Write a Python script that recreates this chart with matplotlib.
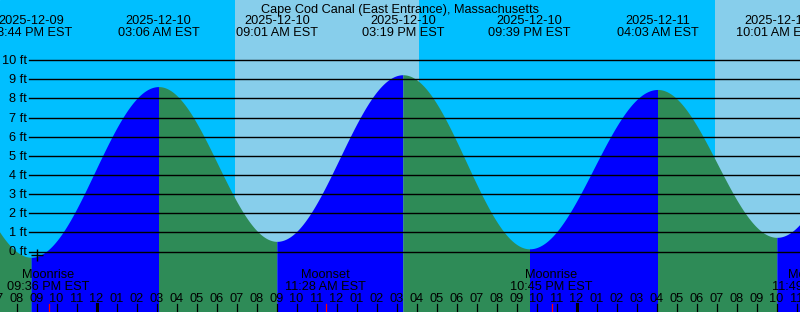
import numpy as np
import matplotlib
matplotlib.use("Agg")
import matplotlib.pyplot as plt
from matplotlib.transforms import blended_transform_factory

plt.rcParams['font.family'] = ['Liberation Sans', 'DejaVu Sans']

# hours from midnight 2025-12-10 EST
# tide extremes (first and last are off the chart, estimated)
ext_h = [-9.67, -3.267, 3.1, 9.017, 15.317, 21.65, 28.05, 34.017, 40.3]
ext_ft = [9.0, -0.3, 8.62, 0.53, 9.24, 0.14, 8.47, 0.74, 9.2]
ext_dates = ["", "2025-12-09", "2025-12-10", "2025-12-10", "2025-12-10",
             "2025-12-10", "2025-12-11", "2025-12-11", ""]
ext_times = ["", "08:44 PM EST", "03:06 AM EST", "09:01 AM EST", "03:19 PM EST",
             "09:39 PM EST", "04:03 AM EST", "10:01 AM EST", ""]

# daylight spans (sunrise, sunset)
day_spans = [(6.92, 16.12), (30.92, 42.0)]

# moon events
moon_h = [-2.4, 11.467, 22.75, 35.817]
moon_name = ["Moonrise", "Moonset", "Moonrise", "Moonset"]
moon_time = ["09:36 PM EST", "11:28 AM EST", "10:45 PM EST", "11:49 AM EST"]

ft_levels = list(range(0, 11))
hours = list(range(-5, 36))

W, H = 800, 312
fig = plt.figure(figsize=(W / 100, H / 100), dpi=100)
ax = fig.add_axes([0, 0, 1, 1])
x0 = -96.5 / 20
ax.set_xlim(x0, x0 + W / 20)
ax.set_ylim((251.5 - H) / 19.13, 251.5 / 19.13)
ax.axis('off')

ax.add_patch(plt.Rectangle((0, 0), 1, 1, transform=ax.transAxes, color='#00BFFF', zorder=0))
for s, e in day_spans:
    ax.axvspan(s, e, color='#87CEEB', zorder=1, lw=0)

# tide curve: half-cosine between successive extremes
bottom = -5
for i in range(len(ext_h) - 1):
    t0, t1 = ext_h[i], ext_h[i + 1]
    v0, v1 = ext_ft[i], ext_ft[i + 1]
    t = np.linspace(t0, t1, 200)
    v = v0 + (v1 - v0) * (1 - np.cos(np.pi * (t - t0) / (t1 - t0))) / 2
    col = '#0000FF' if v1 > v0 else '#2E8B57'
    ax.fill_between(t, v, bottom, color=col, lw=0, zorder=2)

# grid lines
trY = blended_transform_factory(fig.transFigure, ax.transData)
for f in ft_levels:
    ax.plot([29 / W, 1], [f, f], color='black', lw=1.0, transform=trY, zorder=3)
    ax.text(27 / W, f - 0.05, f"{f} ft", transform=trY, ha='right', va='center',
            fontsize=9.2, zorder=4)

trX = blended_transform_factory(ax.transData, fig.transFigure)

def fy(p):
    return 1 - p / H

# title and extremes labels
fig.text(0.5, fy(9.5), "Cape Cod Canal (East Entrance), Massachusetts",
         ha='center', va='center', fontsize=9.2)
for h, d, tm in zip(ext_h, ext_dates, ext_times):
    if d:
        ax.text(h, fy(20.5), d, transform=trX, ha='center', va='center', fontsize=9.2, zorder=5)
        ax.text(h, fy(32.5), tm, transform=trX, ha='center', va='center', fontsize=9.2, zorder=5)

# moon events
for h, n, tm in zip(moon_h, moon_name, moon_time):
    ax.text(h, fy(274.5), n, transform=trX, ha='center', va='center', fontsize=9.2, zorder=5)
    ax.text(h, fy(286.5), tm, transform=trX, ha='center', va='center', fontsize=9.2, zorder=5)
    ax.plot([h, h], [fy(304), 0], color='red', lw=0.9, transform=trX, zorder=5)

# hour ticks and labels
for h in hours:
    lab = f"{(h - 1) % 12 + 1:02d}"
    ax.text(h, fy(299.5), lab, transform=trX, ha='center', va='center', fontsize=9.2, zorder=5)
    lw = 2.2 if h % 24 == 0 else 0.9
    ax.plot([h, h], [fy(304), 0], color='black', lw=lw, transform=trX, zorder=5)

# marker near first low
ax.plot([-2.975], [-0.18], marker='+', color='black', ms=8, mew=1.0, zorder=5)

fig.savefig("out.png", dpi=100)
